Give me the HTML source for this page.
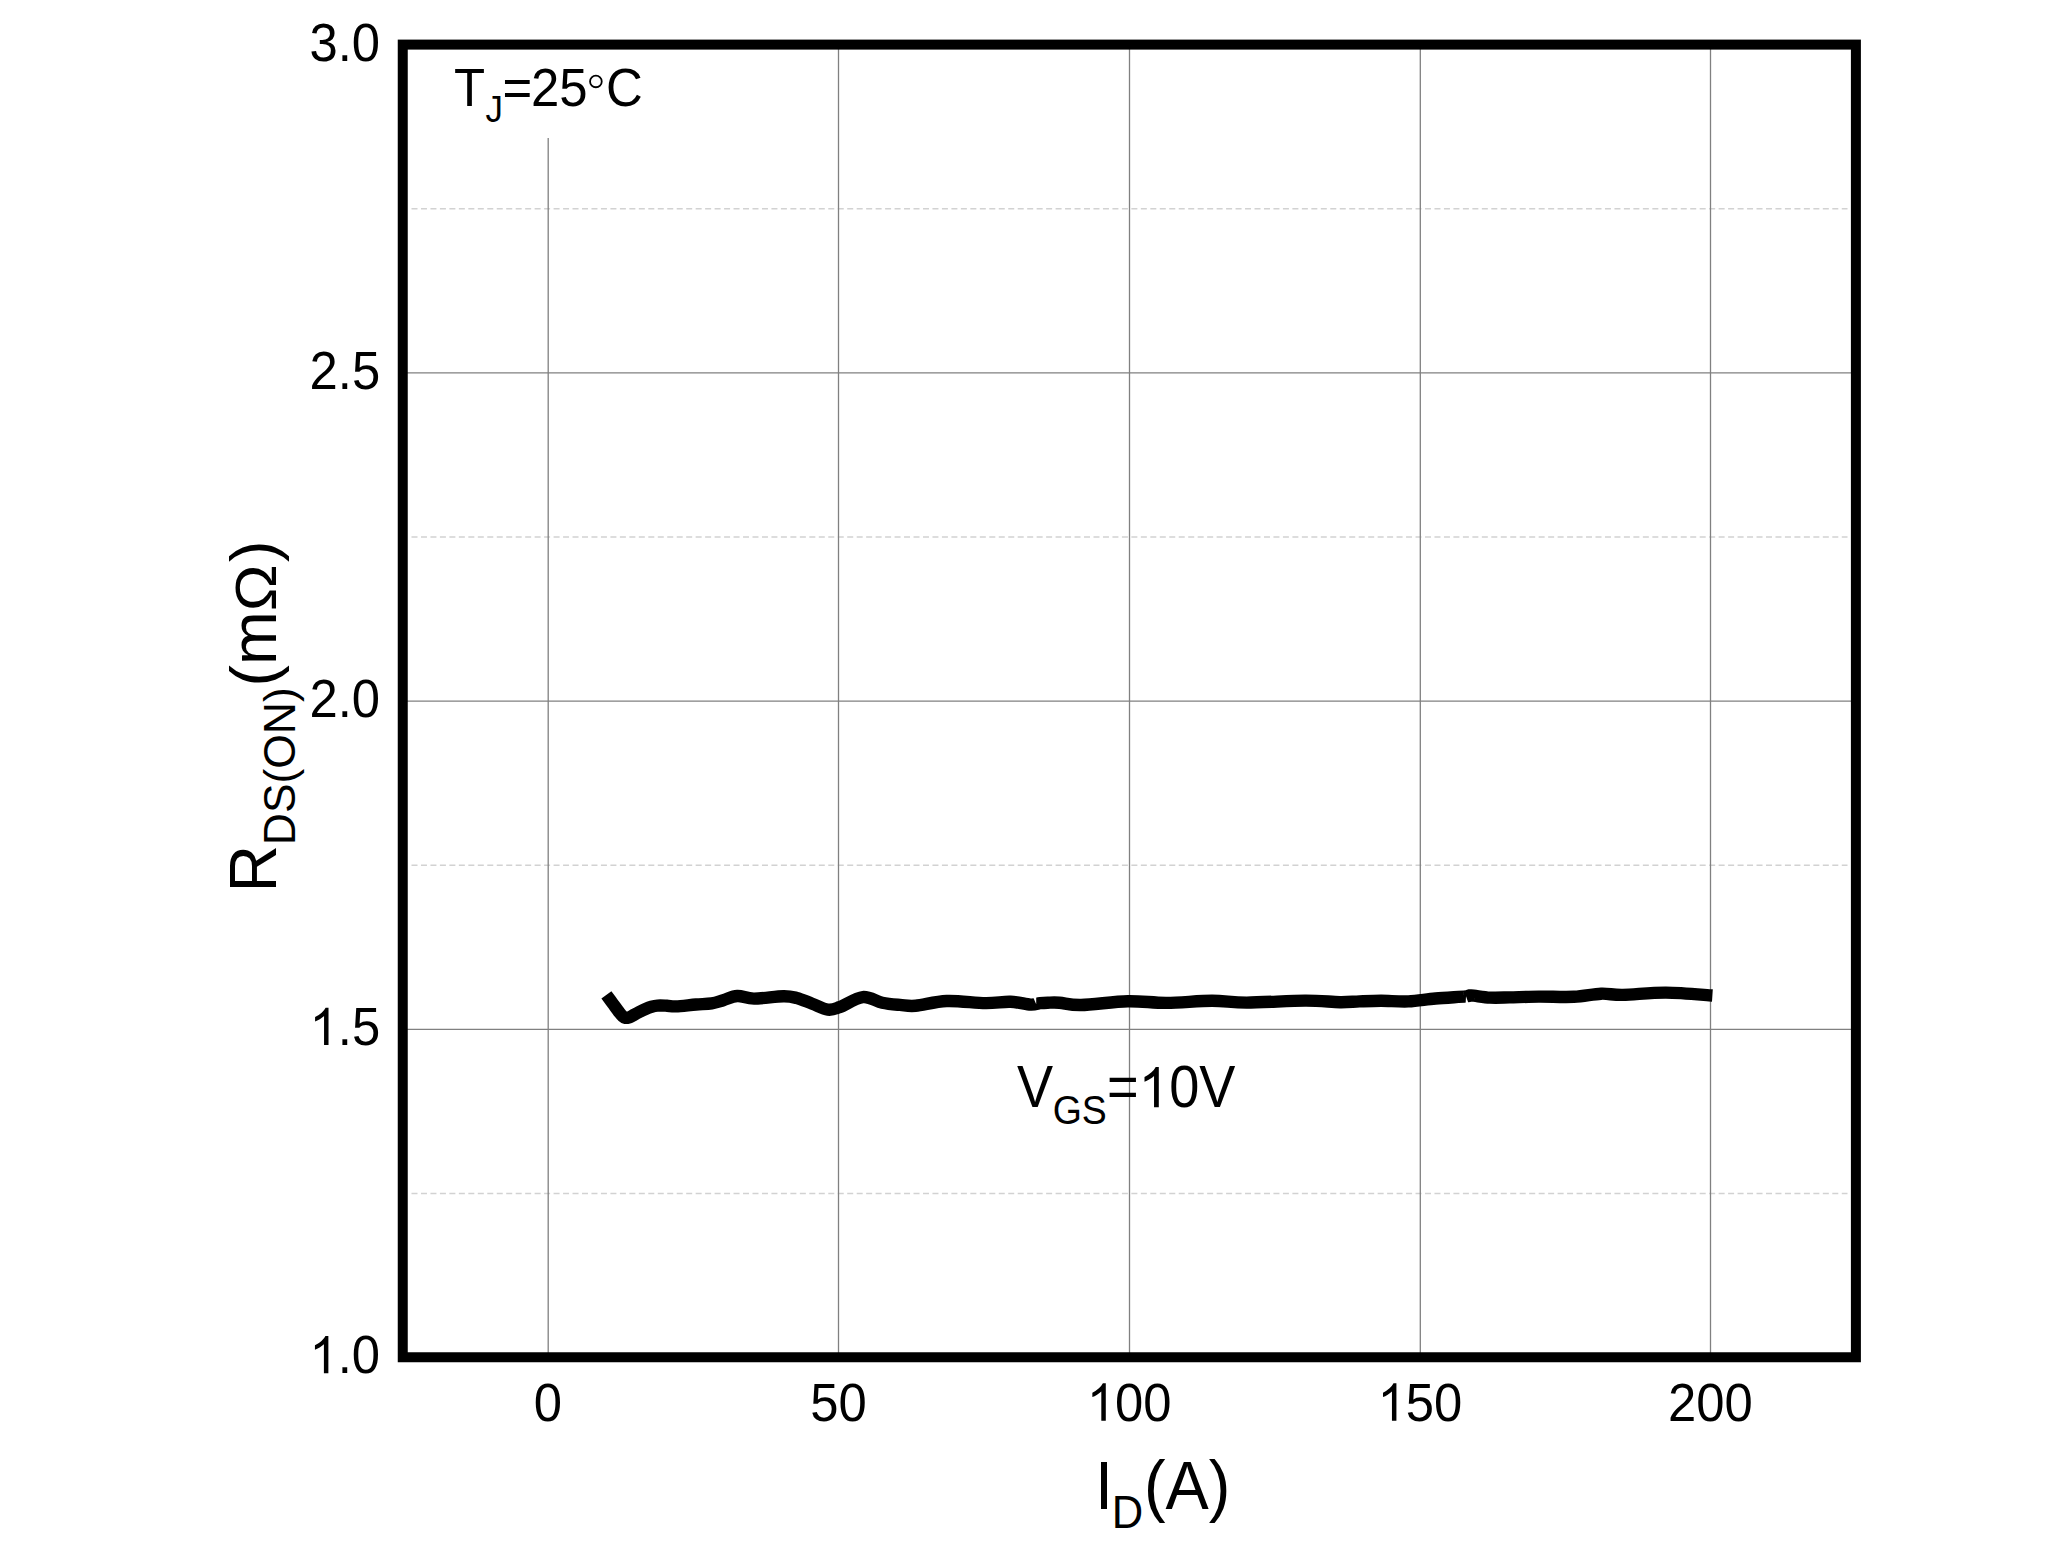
<!DOCTYPE html>
<html><head><meta charset="utf-8"><style>
html,body{margin:0;padding:0;background:#fff;}
body{width:2057px;height:1542px;overflow:hidden;font-family:"Liberation Sans",sans-serif;}
svg{display:block;position:absolute;left:0;top:0;}
</style></head><body>
<svg width="2057" height="1542" viewBox="0 0 2057 1542">
<rect x="0" y="0" width="2057" height="1542" fill="#fff"/>
<line x1="411.5" x2="1847.5" y1="208.8" y2="208.8" stroke="#d2d2d2" stroke-width="1.5" stroke-dasharray="6 3.472"/>
<line x1="411.5" x2="1847.5" y1="537.0" y2="537.0" stroke="#d2d2d2" stroke-width="1.5" stroke-dasharray="6 3.472"/>
<line x1="411.5" x2="1847.5" y1="865.2" y2="865.2" stroke="#d2d2d2" stroke-width="1.5" stroke-dasharray="6 3.472"/>
<line x1="411.5" x2="1847.5" y1="1193.4" y2="1193.4" stroke="#d2d2d2" stroke-width="1.5" stroke-dasharray="6 3.472"/>
<line x1="407" x2="1852" y1="372.9" y2="372.9" stroke="#808080" stroke-width="1.3"/>
<line x1="407" x2="1852" y1="701.1" y2="701.1" stroke="#808080" stroke-width="1.3"/>
<line x1="407" x2="1852" y1="1029.3" y2="1029.3" stroke="#808080" stroke-width="1.3"/>
<line x1="548.2" x2="548.2" y1="138" y2="1353" stroke="#808080" stroke-width="1.3"/>
<line x1="838.5" x2="838.5" y1="49" y2="1353" stroke="#808080" stroke-width="1.3"/>
<line x1="1129.5" x2="1129.5" y1="49" y2="1353" stroke="#808080" stroke-width="1.3"/>
<line x1="1420.3" x2="1420.3" y1="49" y2="1353" stroke="#808080" stroke-width="1.3"/>
<line x1="1710.5" x2="1710.5" y1="49" y2="1353" stroke="#808080" stroke-width="1.3"/>
<rect x="402.75" y="44.6" width="1453.15" height="1312.65" fill="none" stroke="#000" stroke-width="10"/>
<path d="M606.4 994.8 C607.5 996.3 610.8 1000.8 613.0 1003.8 C615.2 1006.8 617.8 1010.4 619.4 1012.5 C621.0 1014.6 621.8 1015.4 622.8 1016.3 C623.8 1017.2 624.6 1017.6 625.6 1017.8 C626.6 1018.0 627.5 1017.9 628.6 1017.6 C629.7 1017.3 630.3 1016.9 632.0 1016.0 C633.7 1015.1 636.5 1013.5 638.8 1012.3 C641.1 1011.1 643.5 1009.9 645.6 1009.0 C647.7 1008.1 649.5 1007.4 651.5 1006.8 C653.5 1006.2 654.9 1005.8 657.5 1005.6 C660.1 1005.4 663.9 1005.6 667.0 1005.7 C670.1 1005.8 671.1 1006.6 676.0 1006.4 C680.9 1006.2 690.1 1005.0 696.1 1004.5 C702.1 1004.0 707.2 1004.0 711.7 1003.3 C716.2 1002.6 719.0 1001.4 723.3 1000.2 C727.6 999.0 732.2 996.3 737.3 996.0 C742.4 995.7 746.3 998.6 754.0 998.6 C761.7 998.6 776.3 996.4 783.4 996.3 C790.5 996.2 791.9 996.8 796.7 998.0 C801.5 999.2 807.0 1001.8 812.2 1003.7 C817.4 1005.6 823.2 1009.0 827.8 1009.6 C832.3 1010.2 833.7 1009.3 839.5 1007.2 C845.3 1005.1 855.7 997.9 862.8 997.1 C869.9 996.4 876.0 1001.4 882.2 1002.7 C888.4 1004.0 894.4 1004.4 900.0 1004.9 C905.6 1005.4 907.8 1006.4 915.6 1005.8 C923.4 1005.1 935.0 1001.5 946.7 1001.0 C958.4 1000.5 975.0 1003.0 985.6 1003.1 C996.2 1003.2 1003.0 1001.5 1010.5 1001.8 C1018.0 1002.0 1025.8 1004.4 1030.7 1004.6 C1035.6 1004.8 1037.2 1003.5 1040.0 1003.2 C1042.8 1002.9 1044.5 1002.8 1047.8 1002.7 C1051.0 1002.6 1054.0 1002.3 1059.5 1002.7 C1065.0 1003.1 1069.7 1005.2 1081.1 1005.0 C1092.5 1004.8 1113.5 1001.6 1127.8 1001.2 C1142.1 1000.9 1152.7 1003.0 1166.7 1002.9 C1180.7 1002.8 1198.7 1000.8 1212.0 1000.8 C1225.3 1000.8 1231.2 1002.6 1246.7 1002.6 C1262.2 1002.6 1289.5 1000.7 1305.0 1000.6 C1320.5 1000.5 1330.9 1002.1 1340.0 1002.2 C1349.1 1002.3 1352.7 1001.6 1359.5 1001.4 C1366.3 1001.1 1373.0 1000.7 1381.1 1000.7 C1389.2 1000.7 1399.2 1001.8 1408.3 1001.4 C1417.4 1001.0 1426.0 999.3 1435.6 998.5 C1445.2 997.7 1460.1 996.9 1466.0 996.4 C1471.9 995.9 1467.0 995.2 1471.0 995.4 C1475.0 995.6 1483.6 997.3 1490.0 997.6 C1496.4 997.9 1501.3 997.6 1509.5 997.4 C1517.7 997.2 1528.2 996.7 1538.9 996.6 C1549.6 996.5 1563.5 997.3 1573.9 996.8 C1584.3 996.3 1592.9 994.0 1601.1 993.7 C1609.3 993.4 1612.1 995.1 1622.9 994.9 C1633.7 994.7 1651.1 992.5 1666.0 992.6 C1680.9 992.7 1704.7 995.0 1712.4 995.5" fill="none" stroke="#000" stroke-width="12.4" stroke-linecap="butt" stroke-linejoin="round"/>
<path d="M1033.2 997.3 L1036.2 996.2 L1036.2 1004.2 Z M1465.6 1004.8 L1469.0 1004.8 L1466.0 996.3 Z" fill="#fff"/>
<g font-family="Liberation Sans, sans-serif" fill="#000">
<text transform="translate(309.43 60.50) scale(0.95 1)" font-size="53.5">3.0</text>
<text transform="translate(309.58 388.70) scale(0.95 1)" font-size="53.5">2.5</text>
<text transform="translate(309.43 716.90) scale(0.95 1)" font-size="53.5">2.0</text>
<text transform="translate(309.58 1045.10) scale(0.95 1)" font-size="53.5"> .5</text>
<path transform="translate(309.58 1045.10) scale(0.02482 -0.02534)" d="M763 0L583 0L583 1147Q518 1085 412 1023Q306 961 222 930L222 1104Q373 1175 486 1276Q599 1377 646 1472L763 1472Z"/>
<text transform="translate(309.43 1373.30) scale(0.95 1)" font-size="53.5"> .0</text>
<path transform="translate(309.43 1373.30) scale(0.02482 -0.02534)" d="M763 0L583 0L583 1147Q518 1085 412 1023Q306 961 222 930L222 1104Q373 1175 486 1276Q599 1377 646 1472L763 1472Z"/>
<text transform="translate(533.87 1420.70) scale(0.95 1)" font-size="53.5">0</text>
<text transform="translate(810.36 1420.70) scale(0.95 1)" font-size="53.5">50</text>
<text transform="translate(1086.85 1420.70) scale(0.95 1)" font-size="53.5"> 00</text>
<path transform="translate(1086.85 1420.70) scale(0.02482 -0.02541)" d="M763 0L583 0L583 1147Q518 1085 412 1023Q306 961 222 930L222 1104Q373 1175 486 1276Q599 1377 646 1472L763 1472Z"/>
<text transform="translate(1377.48 1420.70) scale(0.95 1)" font-size="53.5"> 50</text>
<path transform="translate(1377.48 1420.70) scale(0.02482 -0.02541)" d="M763 0L583 0L583 1147Q518 1085 412 1023Q306 961 222 930L222 1104Q373 1175 486 1276Q599 1377 646 1472L763 1472Z"/>
<text transform="translate(1668.10 1420.70) scale(0.95 1)" font-size="53.5">200</text>
<text transform="translate(454.06 106.00) scale(0.95 1)" font-size="53.6">T</text>
<text transform="translate(485.56 122.00) scale(0.95 1)" font-size="36.7">J</text>
<text transform="translate(502.51 106.00) scale(0.95 1)" font-size="53.6">=</text>
<text transform="translate(530.94 106.00) scale(0.95 1)" font-size="53.6">25</text>
<circle cx="595.9" cy="81.4" r="5.85" fill="none" stroke="#000" stroke-width="1.8"/>
<text transform="translate(606.11 106.00) scale(0.95 1)" font-size="53.6">C</text>
<text transform="translate(1017.06 1107.20) scale(0.927 1)" font-size="58.4">V</text>
<text transform="translate(1052.72 1124.30) scale(0.927 1)" font-size="40.4">GS</text>
<text transform="translate(1107.06 1107.20) scale(0.927 1)" font-size="58.4">=</text>
<text transform="translate(1138.63 1107.20) scale(0.927 1)" font-size="58.4"> </text>
<path transform="translate(1138.63 1107.20) scale(0.02643 -0.02731)" d="M763 0L583 0L583 1147Q518 1085 412 1023Q306 961 222 930L222 1104Q373 1175 486 1276Q599 1377 646 1472L763 1472Z"/>
<text transform="translate(1169.19 1107.20) scale(0.927 1)" font-size="58.4">0V</text>
<text transform="translate(1094.92 1508.70) scale(0.955 1)" font-size="67.9">I</text>
<text transform="translate(1111.63 1527.70) scale(0.955 1)" font-size="45.6">D</text>
<text transform="translate(1143.98 1508.70) scale(0.955 1)" font-size="67.9">(A)</text>
<text transform="translate(276.00 892.41) rotate(-90)" font-size="66.0">R</text>
<text transform="translate(295.10 845.14) rotate(-90)" font-size="44.4">DS(ON)</text>
<text transform="translate(276.00 686.39) rotate(-90)" font-size="64.4">(m</text>
<text transform="translate(276 611.16) scale(0.904 1) rotate(-90)" font-size="62.7">Ω</text>
<text transform="translate(276.00 561.88) rotate(-90)" font-size="64.4">)</text>
</g>
</svg>
</body></html>
